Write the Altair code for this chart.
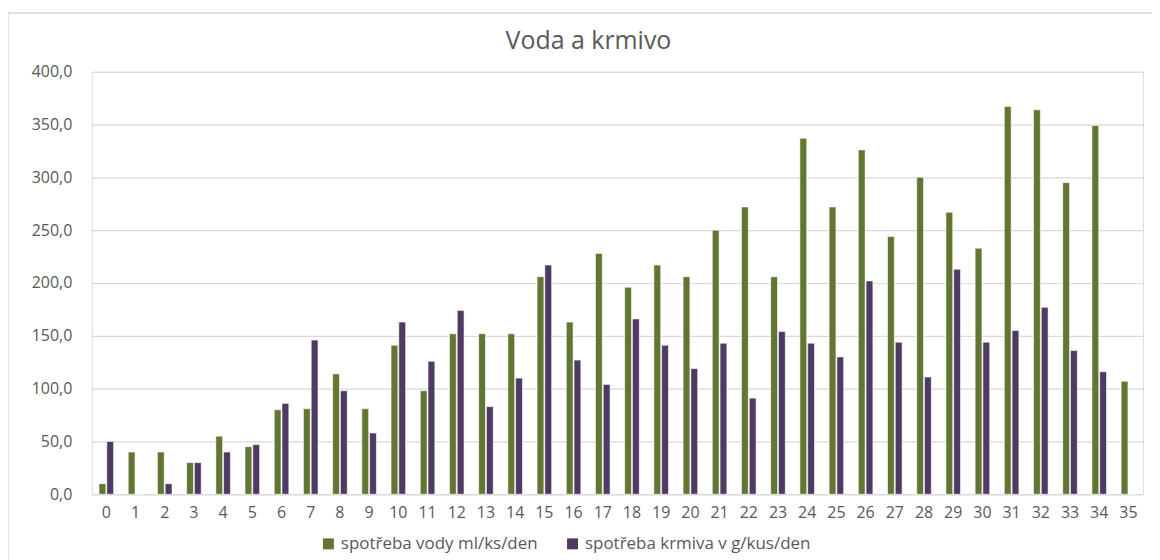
import altair as alt
import pandas as pd

days = list(range(36))
water = [10, 40, 40, 30, 55, 45, 80, 81, 114, 81, 141, 98, 152, 152, 152, 206, 163, 228, 196, 217,
         206, 250, 272, 206, 337, 272, 326, 244, 300, 267, 233, 367, 364, 295, 349, 107]
feed = [50, 0, 10, 30, 40, 47, 86, 146, 98, 58, 163, 126, 174, 83, 110, 217, 127, 104, 166, 141,
        119, 143, 91, 154, 143, 130, 202, 144, 111, 213, 144, 155, 177, 136, 116, 0]
series_names = ["spotřeba vody ml/ks/den", "spotřeba krmiva v g/kus/den"]
series_colors = ["#637532", "#4f3a63"]
title_text = ["Voda a krmivo"]

rows = []
for d, w, f in zip(days, water, feed):
    rows.append({"den": d, "serie": series_names[0], "hodnota": w})
    rows.append({"den": d, "serie": series_names[1], "hodnota": f})
df = pd.DataFrame(rows)

W, H = 1055, 424
FONT = "Open Sans"
GRAY = "#595959"

bars = alt.Chart(df).mark_bar(stroke="white", strokeWidth=0.6).encode(
    x=alt.X("den:O", sort=days,
            scale=alt.Scale(paddingInner=0.5, paddingOuter=0.25),
            axis=alt.Axis(title=None, labelAngle=0, ticks=False, domain=True,
                          domainColor="#d9d9d9", domainWidth=1.2,
                          labelFontSize=16, labelColor=GRAY, labelFont=FONT,
                          labelPadding=10, grid=False)),
    xOffset=alt.XOffset("serie:N", sort=series_names, scale=alt.Scale(paddingInner=0.12)),
    y=alt.Y("hodnota:Q", scale=alt.Scale(domain=[0, 400], nice=False),
            axis=alt.Axis(title=None, values=[0, 50, 100, 150, 200, 250, 300, 350, 400],
                          labelExpr="replace(format(datum.value, '.1f'), '.', ',')",
                          ticks=False, domain=False, gridColor="#d9d9d9", gridWidth=1.2,
                          labelFontSize=16, labelColor=GRAY, labelFont=FONT,
                          labelPadding=20)),
    color=alt.Color("serie:N", sort=series_names,
                    scale=alt.Scale(domain=series_names, range=series_colors),
                    legend=alt.Legend(title=None, orient="none", direction="horizontal",
                                      legendX=229, legendY=465, symbolType="square",
                                      symbolSize=121, symbolStrokeWidth=0,
                                      labelFontSize=17, labelColor=GRAY, labelFont=FONT,
                                      labelLimit=500, columnPadding=26,
                                      symbolOffset=0, labelOffset=4)),
)

border = alt.Chart(pd.DataFrame({"a": [0]})).mark_rect(
    fill=None, stroke="#d9d9d9", strokeWidth=1.5
).encode(
    x=alt.value(-84), x2=alt.value(1200), y=alt.value(-59), y2=alt.value(700)
)

title = alt.Chart(pd.DataFrame({"t": title_text})).mark_text(
    font=FONT, fontSize=25, color=GRAY, align="center", baseline="middle"
).encode(
    text="t:N", x=alt.value(W / 2 - 29), y=alt.value(-31)
)

chart = alt.layer(border, bars, title).properties(
    width=W, height=H,
    autosize=alt.AutoSizeParams(type="none"),
    padding={"left": 84, "top": 63, "right": 9, "bottom": 65},
).configure_view(stroke=None).configure(background="white")

chart.save("out.html", embed_options={"renderer": "svg", "actions": False})
